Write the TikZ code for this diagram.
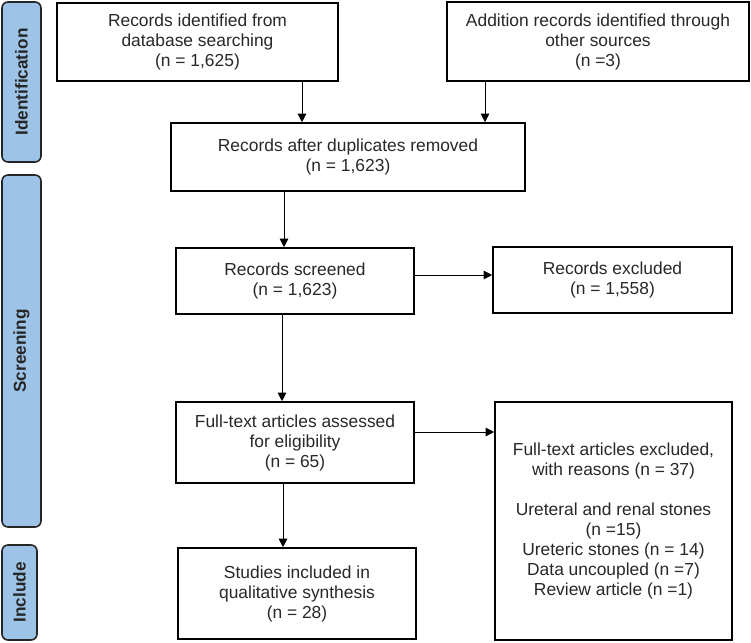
\documentclass[tikz,border=0pt]{standalone}
\usepackage{fontspec}
\setmainfont{Liberation Sans}
\usetikzlibrary{arrows.meta}
\definecolor{stagefill}{RGB}{157,195,230}
\definecolor{txt}{RGB}{40,40,40}
\tikzset{
  flowbox/.style={draw=black, line width=1.6pt, fill=white, align=center, text=txt,
    font=\fontsize{17.4}{20}\selectfont, inner sep=0pt},
  stagebox/.style={draw=black!85, line width=1.6pt, fill=stagefill, rounded corners=6pt,
    rotate=90, font=\fontsize{17.2}{20}\selectfont\bfseries, text=black!85, inner sep=0pt},
  arr/.style={line width=1pt, draw=black, -{Triangle[length=8.5pt,width=8.5pt]}}
}
\begin{document}
\begin{tikzpicture}[x=1pt,y=-1pt]
\useasboundingbox (0,0) rectangle (751,642);

% stage labels
\node[stagebox, minimum width=160pt, minimum height=39pt] (sid) at (21.5,82) {Identification};
\node[stagebox, minimum width=352pt, minimum height=39pt] (sscr) at (21.5,351) {Screening};
\node[stagebox, minimum width=95pt, minimum height=35pt] (sinc) at (19.5,592.5) {Include};

% boxes
\node[flowbox, minimum width=281pt, minimum height=78pt] (b1) at (197.5,42)
  {Records identified from\\database searching\\(n = 1,625)};
\node[flowbox, minimum width=302pt, minimum height=79pt] (b2) at (598,41.5)
  {Addition records identified through\\other sources\\(n =3)};
\node[flowbox, minimum width=354pt, minimum height=68pt] (b3) at (348,157)
  {Records after duplicates removed\\(n = 1,623)};
\node[flowbox, minimum width=238pt, minimum height=66pt] (b4) at (295,281)
  {Records screened\\(n = 1,623)};
\node[flowbox, minimum width=239pt, minimum height=66pt] (b5) at (612.5,280)
  {Records excluded\\(n = 1,558)};
\node[flowbox, minimum width=238pt, minimum height=81pt] (b6) at (295,442.5)
  {Full-text articles assessed\\for eligibility\\(n = 65)};
\node[flowbox, minimum width=238pt, minimum height=91pt] (b7) at (297,593.5)
  {Studies included in\\qualitative synthesis\\(n = 28)};
\node[flowbox, minimum width=237pt, minimum height=238pt] (b8) at (613.5,521)
  {Full-text articles excluded,\\with reasons (n = 37)\\[20pt]Ureteral and renal stones\\(n =15)\\Ureteric stones (n = 14)\\Data uncoupled (n =7)\\Review article (n =1)};

% connectors
\draw[arr] ([xshift=104.5pt]b1.south) -- ([xshift=104.5pt]b1.south |- b3.north);
\draw[arr] ([xshift=-113pt]b2.south) -- ([xshift=-113pt]b2.south |- b3.north);
\draw[arr] ([xshift=-11pt]b4.north |- b3.south) -- ([xshift=-11pt]b4.north);
\draw[arr] ([yshift=6pt]b4.east) -- ([yshift=6pt]b4.east -| b5.west);
\draw[arr] ([xshift=-13pt]b4.south) -- ([xshift=-13pt]b4.south |- b6.north);
\draw[arr] ([xshift=-12pt]b6.south) -- ([xshift=-12pt]b6.south |- b7.north);
\draw[arr] ([yshift=10.5pt]b6.east) -- ([yshift=10.5pt]b6.east -| b8.west);
\end{tikzpicture}
\end{document}
